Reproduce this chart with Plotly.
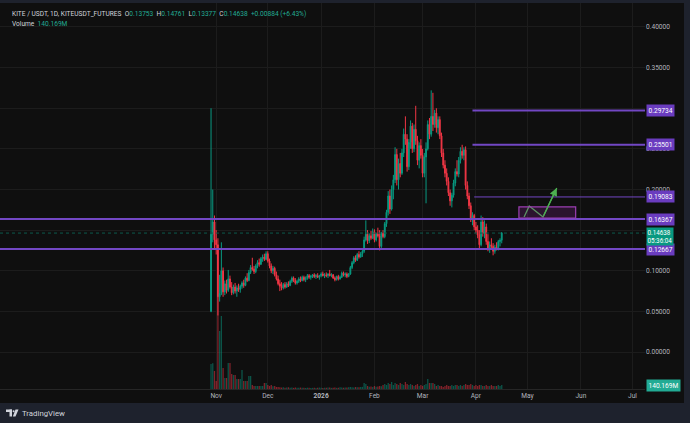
import pandas as pd
import plotly.graph_objects as go

# ---------------- data ----------------
start_date = "2025-10-29"

opens = [0.050, 0.145, 0.160, 0.138, 0.132, 0.068, 0.072, 0.100, 0.074, 0.084,
         0.076, 0.090, 0.080, 0.073, 0.080, 0.075, 0.079, 0.077, 0.081, 0.085,
         0.082, 0.091, 0.088, 0.098, 0.104, 0.102, 0.099, 0.106, 0.110, 0.108,
         0.115, 0.117, 0.114, 0.121, 0.112, 0.106, 0.100, 0.103, 0.095, 0.090,
         0.084, 0.081, 0.079, 0.083, 0.080, 0.084, 0.082, 0.087, 0.091, 0.088,
         0.085, 0.087, 0.090, 0.088, 0.092, 0.089, 0.091, 0.094, 0.092, 0.093,
         0.095, 0.093, 0.094, 0.092, 0.094, 0.096, 0.094, 0.095, 0.094, 0.096,
         0.094, 0.095, 0.091, 0.089, 0.093, 0.090, 0.092, 0.097, 0.095, 0.096,
         0.093, 0.096, 0.104, 0.110, 0.116, 0.113, 0.120, 0.117, 0.121, 0.124,
         0.138, 0.145, 0.137, 0.143, 0.140, 0.148, 0.138, 0.145, 0.143, 0.130,
         0.146, 0.142, 0.158, 0.172, 0.192, 0.176, 0.200, 0.212, 0.243, 0.212,
         0.232, 0.220, 0.245, 0.268, 0.262, 0.228, 0.258, 0.278, 0.250, 0.274,
         0.260, 0.236, 0.254, 0.242, 0.220, 0.240, 0.250, 0.280, 0.268, 0.290,
         0.280, 0.294, 0.276, 0.286, 0.266, 0.245, 0.230, 0.220, 0.210, 0.196,
         0.186, 0.193, 0.208, 0.222, 0.219, 0.236, 0.247, 0.242, 0.249, 0.205,
         0.192, 0.180, 0.164, 0.168, 0.154, 0.150, 0.144, 0.132, 0.160, 0.146,
         0.154, 0.136, 0.128, 0.132, 0.130, 0.124, 0.129, 0.127, 0.136, 0.13753]

highs = [0.300, 0.200, 0.168, 0.150, 0.140, 0.095, 0.135, 0.104, 0.088, 0.089,
         0.101, 0.094, 0.086, 0.083, 0.085, 0.082, 0.084, 0.083, 0.087, 0.089,
         0.093, 0.097, 0.101, 0.107, 0.116, 0.106, 0.108, 0.113, 0.115, 0.117,
         0.120, 0.121, 0.124, 0.124, 0.115, 0.109, 0.106, 0.105, 0.099, 0.094,
         0.089, 0.086, 0.085, 0.086, 0.086, 0.087, 0.089, 0.093, 0.093, 0.091,
         0.089, 0.092, 0.093, 0.094, 0.094, 0.093, 0.096, 0.096, 0.095, 0.096,
         0.097, 0.096, 0.097, 0.095, 0.098, 0.099, 0.097, 0.098, 0.097, 0.101,
         0.097, 0.096, 0.093, 0.094, 0.095, 0.094, 0.099, 0.099, 0.098, 0.098,
         0.097, 0.106, 0.112, 0.118, 0.119, 0.122, 0.124, 0.123, 0.126, 0.142,
         0.162, 0.150, 0.146, 0.149, 0.152, 0.151, 0.147, 0.153, 0.150, 0.148,
         0.150, 0.160, 0.175, 0.198, 0.200, 0.205, 0.218, 0.252, 0.250, 0.238,
         0.245, 0.250, 0.275, 0.290, 0.268, 0.262, 0.285, 0.282, 0.280, 0.303,
         0.266, 0.258, 0.262, 0.250, 0.245, 0.258, 0.285, 0.288, 0.322, 0.319,
         0.298, 0.300, 0.290, 0.290, 0.270, 0.250, 0.236, 0.226, 0.215, 0.200,
         0.196, 0.212, 0.226, 0.236, 0.240, 0.252, 0.255, 0.252, 0.253, 0.210,
         0.196, 0.184, 0.172, 0.170, 0.160, 0.156, 0.150, 0.168, 0.166, 0.162,
         0.158, 0.145, 0.136, 0.140, 0.134, 0.132, 0.135, 0.138, 0.140, 0.14761]

lows = [0.049, 0.135, 0.128, 0.120, 0.045, 0.062, 0.070, 0.068, 0.070, 0.072,
        0.074, 0.078, 0.070, 0.071, 0.072, 0.068, 0.074, 0.073, 0.078, 0.079,
        0.081, 0.086, 0.087, 0.096, 0.100, 0.096, 0.097, 0.103, 0.105, 0.107,
        0.111, 0.112, 0.113, 0.110, 0.103, 0.097, 0.096, 0.093, 0.088, 0.082,
        0.075, 0.076, 0.077, 0.078, 0.079, 0.080, 0.081, 0.085, 0.086, 0.083,
        0.083, 0.085, 0.086, 0.087, 0.087, 0.086, 0.089, 0.090, 0.089, 0.091,
        0.091, 0.090, 0.091, 0.089, 0.092, 0.093, 0.091, 0.092, 0.091, 0.093,
        0.092, 0.090, 0.087, 0.088, 0.088, 0.089, 0.091, 0.093, 0.092, 0.091,
        0.092, 0.095, 0.102, 0.108, 0.111, 0.112, 0.115, 0.116, 0.117, 0.122,
        0.136, 0.133, 0.134, 0.138, 0.139, 0.135, 0.136, 0.141, 0.125, 0.128,
        0.140, 0.140, 0.154, 0.168, 0.170, 0.174, 0.188, 0.208, 0.205, 0.200,
        0.215, 0.218, 0.240, 0.255, 0.222, 0.224, 0.250, 0.245, 0.246, 0.255,
        0.230, 0.226, 0.238, 0.215, 0.215, 0.183, 0.248, 0.262, 0.265, 0.272,
        0.276, 0.270, 0.268, 0.262, 0.240, 0.226, 0.215, 0.205, 0.192, 0.180,
        0.178, 0.190, 0.204, 0.216, 0.215, 0.232, 0.238, 0.236, 0.200, 0.188,
        0.176, 0.160, 0.156, 0.150, 0.146, 0.140, 0.127, 0.130, 0.142, 0.140,
        0.132, 0.124, 0.122, 0.126, 0.119, 0.121, 0.125, 0.125, 0.130, 0.13377]

closes = [0.145, 0.160, 0.138, 0.132, 0.068, 0.072, 0.100, 0.074, 0.084, 0.076,
          0.090, 0.080, 0.073, 0.080, 0.075, 0.079, 0.077, 0.081, 0.085, 0.082,
          0.091, 0.088, 0.098, 0.104, 0.102, 0.099, 0.106, 0.110, 0.108, 0.115,
          0.117, 0.114, 0.121, 0.112, 0.106, 0.100, 0.103, 0.095, 0.090, 0.084,
          0.081, 0.079, 0.083, 0.080, 0.084, 0.082, 0.087, 0.091, 0.088, 0.085,
          0.087, 0.090, 0.088, 0.092, 0.089, 0.091, 0.094, 0.092, 0.093, 0.095,
          0.093, 0.094, 0.092, 0.094, 0.096, 0.094, 0.095, 0.094, 0.096, 0.094,
          0.095, 0.091, 0.089, 0.093, 0.090, 0.092, 0.097, 0.095, 0.096, 0.093,
          0.096, 0.104, 0.110, 0.116, 0.113, 0.120, 0.117, 0.121, 0.124, 0.138,
          0.145, 0.137, 0.143, 0.140, 0.148, 0.138, 0.145, 0.143, 0.130, 0.146,
          0.142, 0.158, 0.172, 0.192, 0.176, 0.200, 0.212, 0.243, 0.212, 0.232,
          0.220, 0.245, 0.268, 0.262, 0.228, 0.258, 0.278, 0.250, 0.274, 0.260,
          0.236, 0.254, 0.242, 0.220, 0.240, 0.250, 0.280, 0.268, 0.290, 0.280,
          0.294, 0.276, 0.286, 0.266, 0.245, 0.230, 0.220, 0.210, 0.196, 0.186,
          0.193, 0.208, 0.222, 0.219, 0.236, 0.247, 0.242, 0.249, 0.205, 0.192,
          0.180, 0.164, 0.168, 0.154, 0.150, 0.144, 0.132, 0.160, 0.146, 0.154,
          0.136, 0.128, 0.132, 0.130, 0.124, 0.129, 0.127, 0.136, 0.13753, 0.14638]

volumes_m = [875, 900, 630, 280, 3360, 2030, 2555, 735, 385, 385,
             910, 910, 525, 490, 490, 350, 350, 350, 665, 280,
             280, 280, 455, 455, 140, 105, 105, 105, 105, 105,
             105, 210, 210, 140, 105, 140, 100, 105, 70, 70,
             60, 50, 60, 45, 50, 60, 45, 50, 40, 50,
             45, 40, 50, 45, 40, 35, 45, 40, 35, 40,
             45, 35, 40, 50, 40, 35, 45, 40, 50, 55,
             40, 45, 50, 40, 45, 60, 50, 45, 55, 50,
             60, 70, 60, 55, 70, 65, 60, 70, 75, 210,
             175, 105, 80, 90, 70, 105, 80, 90, 105, 100,
             140, 175, 140, 210, 175, 245, 140, 210, 175, 140,
             210, 175, 140, 245, 175, 140, 175, 140, 105, 140,
             175, 105, 140, 105, 140, 175, 350, 210, 210, 210,
             175, 105, 140, 105, 105, 70, 105, 140, 105, 105,
             140, 105, 140, 140, 105, 140, 105, 140, 175, 140,
             140, 175, 140, 105, 140, 105, 140, 140, 105, 105,
             140, 105, 105, 140, 105, 105, 105, 140, 105, 140.169]

# drawings / levels
level_prices = [0.29734, 0.25501, 0.19083, 0.16367, 0.12667]
level_starts = ["2026-03-30", "2026-03-30", "2026-03-31", None, None]
level_widths = [2, 2, 1, 2, 2]

zone_x = ["2026-04-26", "2026-05-29"]
zone_y = [0.1649, 0.1785]
path_x = ["2026-04-29", "2026-05-02", "2026-05-10", "2026-05-18"]
path_y = [0.1662, 0.1797, 0.1662, 0.2018]

month_ticks = ["2025-11-01", "2025-12-01", "2026-01-01", "2026-02-01", "2026-03-01",
               "2026-04-01", "2026-05-01", "2026-06-01", "2026-07-01"]
month_labels = ["Nov", "Dec", "<b>2026</b>", "Feb", "Mar", "Apr", "May", "Jun", "Jul"]
price_ticks = [0.0, 0.05, 0.10, 0.15, 0.20, 0.25, 0.30, 0.35, 0.40]
# tick labels hidden behind the level / price labels in the reference
price_tick_labels = ["0.00000", "0.05000", "0.10000", "", "0.20000", "0.25000", "",
                     "0.35000", "0.40000"]

last_open, last_high, last_low, last_close = 0.13753, 0.14761, 0.13377, 0.14638
change_txt = "+0.00884 (+6.43%)"
countdown = "05:36:04"
last_volume_txt = "140.169M"

# ---------------- styling ----------------
W, H = 690, 423
ML, MR, MT, MB = 0, 45, 3, 34
PW, PH = W - ML - MR, H - MT - MB

def px_x(px):
    return (px - ML) / PW

def px_y(py):
    return (H - MB - py) / PH

UP, DOWN = "#089981", "#f23645"
UP_VOL, DOWN_VOL = "rgba(8,153,129,0.5)", "rgba(242,54,69,0.5)"
BG, FRAME, GRID = "#0f0f0f", "#1e222d", "#1c1c1c"
TXT = "#b2b5be"
PURPLE_LINE, PURPLE_LABEL = "#7247c4", "#6a3cbf"
FONT = "Roboto"
FS = 6.6

dates = pd.date_range(start_date, periods=len(closes), freq="D")
vol_colors = [UP_VOL if c >= o else DOWN_VOL for o, c in zip(opens, closes)]

x_range = [pd.Timestamp(start_date) - pd.Timedelta(days=122.7),
           pd.Timestamp(start_date) + pd.Timedelta(days=252.3)]

fig = go.Figure()
fig.add_trace(go.Bar(x=dates, y=volumes_m, marker=dict(color=vol_colors, line=dict(width=0)),
                     yaxis="y", hoverinfo="skip", showlegend=False))
fig.add_trace(go.Candlestick(
    x=dates, open=opens, high=highs, low=lows, close=closes, yaxis="y2",
    increasing=dict(line=dict(color=UP, width=1), fillcolor=UP),
    decreasing=dict(line=dict(color=DOWN, width=1), fillcolor=DOWN),
    whiskerwidth=0, showlegend=False))
# projected path
fig.add_trace(go.Scatter(x=path_x, y=path_y, yaxis="y2", mode="lines",
                         line=dict(color="#4caf50", width=1.3), hoverinfo="skip",
                         showlegend=False))

shapes = []
# dark chart panel (covers price / time scales too)
shapes.append(dict(type="rect", xref="paper", yref="paper", x0=px_x(0), x1=px_x(684),
                   y0=px_y(403), y1=px_y(3), fillcolor=BG, line=dict(width=0), layer="below"))
# current price dotted line
shapes.append(dict(type="line", xref="paper", yref="y2", x0=0, x1=1, y0=last_close, y1=last_close,
                   line=dict(color="#0c5a4c", width=1, dash="dot")))
# levels
for p, s, w in zip(level_prices, level_starts, level_widths):
    if s is None:
        shapes.append(dict(type="line", xref="paper", yref="y2", x0=0, x1=1, y0=p, y1=p,
                           line=dict(color=PURPLE_LINE, width=w)))
    else:
        shapes.append(dict(type="line", xref="x", yref="y2", x0=s, x1=x_range[1], y0=p, y1=p,
                           line=dict(color=PURPLE_LINE, width=w)))
# zone box
shapes.append(dict(type="rect", xref="x", yref="y2", x0=zone_x[0], x1=zone_x[1],
                   y0=zone_y[0], y1=zone_y[1], fillcolor="rgba(156,39,176,0.2)",
                   line=dict(color="#9c3fb4", width=1.2)))
# TradingView logo (bottom-left)
shapes.append(dict(type="rect", xref="paper", yref="paper", x0=px_x(6), x1=px_x(12),
                   y0=px_y(412), y1=px_y(409.5), fillcolor="#d1d4dc", line=dict(width=0)))
shapes.append(dict(type="rect", xref="paper", yref="paper", x0=px_x(9.5), x1=px_x(12),
                   y0=px_y(416.5), y1=px_y(409.5), fillcolor="#d1d4dc", line=dict(width=0)))
shapes.append(dict(type="circle", xref="paper", yref="paper", x0=px_x(12.6), x1=px_x(14.6),
                   y0=px_y(412.2), y1=px_y(410.2), fillcolor="#d1d4dc", line=dict(width=0)))
shapes.append(dict(type="path", xref="paper", yref="paper",
                   path=f"M {px_x(15.5)} {px_y(409.5)} L {px_x(18.5)} {px_y(409.5)} "
                        f"L {px_x(15.5)} {px_y(416.5)} L {px_x(12.8)} {px_y(416.5)} Z",
                   fillcolor="#d1d4dc", line=dict(width=0)))

ann = []
# legend text
g = "#22ab94"
w_ = "#d1d4dc"
legend1 = (f"<span style='color:{w_}'>KITE / USDT, 1D, KITEUSDT_FUTURES  O</span>"
           f"<span style='color:{g}'>{last_open:.5f}</span>"
           f"<span style='color:{w_}'>  H</span><span style='color:{g}'>{last_high:.5f}</span>"
           f"<span style='color:{w_}'>  L</span><span style='color:{g}'>{last_low:.5f}</span>"
           f"<span style='color:{w_}'>  C</span><span style='color:{g}'>{last_close:.5f}</span>"
           f"<span style='color:{g}'>  {change_txt}</span>")
ann.append(dict(xref="paper", yref="paper", x=px_x(10), y=px_y(14.5), xanchor="left",
                yanchor="middle", text=legend1, showarrow=False,
                font=dict(family=FONT, size=FS, color=w_)))
ann.append(dict(xref="paper", yref="paper", x=px_x(10), y=px_y(24), xanchor="left",
                yanchor="middle", showarrow=False,
                text=f"<span style='color:{w_}'>Volume  </span><span style='color:{g}'>{last_volume_txt}</span>",
                font=dict(family=FONT, size=FS, color=w_)))
# level labels on the price scale
for p in level_prices:
    ann.append(dict(xref="paper", yref="y2", x=1, y=p, xanchor="left", yanchor="middle",
                    xshift=1, text=f"{p:.5f}", showarrow=False, bgcolor=PURPLE_LABEL,
                    borderpad=1.5, font=dict(family=FONT, size=FS, color="white")))
# current price label
ann.append(dict(xref="paper", yref="y2", x=1, y=last_close, xanchor="left", yanchor="top",
                xshift=1, yshift=6.5, text=f"{last_close:.5f}<br>{countdown}", align="left",
                showarrow=False, bgcolor=UP, borderpad=0.5,
                font=dict(family=FONT, size=6.3, color="white")))
# volume label
ann.append(dict(xref="paper", yref="y", x=1, y=volumes_m[-1], xanchor="left", yanchor="middle",
                xshift=1, text=last_volume_txt, showarrow=False, bgcolor="#22ab94",
                borderpad=1.5, font=dict(family=FONT, size=FS, color="white")))
# arrow head on projected path
ann.append(dict(xref="x", yref="y2", axref="x", ayref="y2", x=path_x[-1], y=path_y[-1],
                ax=path_x[-2], ay=path_y[-2], showarrow=True, arrowhead=2, arrowsize=1.2,
                arrowwidth=1.3, arrowcolor="#4caf50", text=""))
# TradingView wordmark
ann.append(dict(xref="paper", yref="paper", x=px_x(20), y=px_y(413), xanchor="left",
                yanchor="middle", text="TradingView", showarrow=False,
                font=dict(family=FONT, size=7.8, color="#d1d4dc")))

fig.update_layout(
    width=W, height=H, margin=dict(l=ML, r=MR, t=MT, b=MB),
    paper_bgcolor=FRAME, plot_bgcolor=BG,
    font=dict(family=FONT, size=FS, color=TXT),
    shapes=shapes, annotations=ann, bargap=0.25, showlegend=False,
    hovermode=False,
    xaxis=dict(type="date", range=x_range, tickvals=month_ticks, ticktext=month_labels,
               showgrid=True, gridcolor=GRID, gridwidth=1, zeroline=False,
               showline=True, linecolor="#262626", linewidth=1, ticks="",
               tickfont=dict(family=FONT, size=FS, color=TXT),
               rangeslider=dict(visible=False), fixedrange=True),
    yaxis=dict(range=[0, PH * 35], visible=False, fixedrange=True),
    yaxis2=dict(overlaying="y", side="right", range=[-0.0455, 0.4295],
                tickvals=price_ticks, ticktext=price_tick_labels, showgrid=True,
                gridcolor=GRID, zeroline=False, showline=False, ticks="",
                tickfont=dict(family=FONT, size=FS, color=TXT), fixedrange=True),
)

fig.write_html("out.html")
